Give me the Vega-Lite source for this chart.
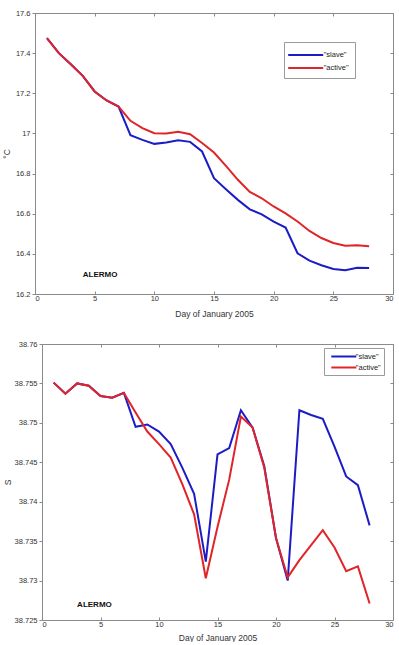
{
  "$schema": "https://vega.github.io/schema/vega-lite/v6.json",
  "padding": {"left": 2, "top": 9, "right": 0, "bottom": 0},
  "background": "white",
  "spacing": 22,
  "datasets": {
    "temperature": [
      {"day": 1, "series": "slave", "value": 17.475}, {"day": 2, "series": "slave", "value": 17.4},
      {"day": 3, "series": "slave", "value": 17.345}, {"day": 4, "series": "slave", "value": 17.287},
      {"day": 5, "series": "slave", "value": 17.209}, {"day": 6, "series": "slave", "value": 17.164},
      {"day": 7, "series": "slave", "value": 17.134}, {"day": 8, "series": "slave", "value": 16.991},
      {"day": 9, "series": "slave", "value": 16.968}, {"day": 10, "series": "slave", "value": 16.948},
      {"day": 11, "series": "slave", "value": 16.955}, {"day": 12, "series": "slave", "value": 16.966},
      {"day": 13, "series": "slave", "value": 16.958}, {"day": 14, "series": "slave", "value": 16.91},
      {"day": 15, "series": "slave", "value": 16.777}, {"day": 16, "series": "slave", "value": 16.722},
      {"day": 17, "series": "slave", "value": 16.669}, {"day": 18, "series": "slave", "value": 16.622},
      {"day": 19, "series": "slave", "value": 16.597}, {"day": 20, "series": "slave", "value": 16.561},
      {"day": 21, "series": "slave", "value": 16.531}, {"day": 22, "series": "slave", "value": 16.403},
      {"day": 23, "series": "slave", "value": 16.366}, {"day": 24, "series": "slave", "value": 16.343},
      {"day": 25, "series": "slave", "value": 16.325}, {"day": 26, "series": "slave", "value": 16.318},
      {"day": 27, "series": "slave", "value": 16.331}, {"day": 28, "series": "slave", "value": 16.33},
      {"day": 1, "series": "active", "value": 17.475}, {"day": 2, "series": "active", "value": 17.4},
      {"day": 3, "series": "active", "value": 17.345}, {"day": 4, "series": "active", "value": 17.287},
      {"day": 5, "series": "active", "value": 17.209}, {"day": 6, "series": "active", "value": 17.164},
      {"day": 7, "series": "active", "value": 17.134}, {"day": 8, "series": "active", "value": 17.063},
      {"day": 9, "series": "active", "value": 17.026}, {"day": 10, "series": "active", "value": 17.001},
      {"day": 11, "series": "active", "value": 17.0}, {"day": 12, "series": "active", "value": 17.008},
      {"day": 13, "series": "active", "value": 16.996}, {"day": 14, "series": "active", "value": 16.952},
      {"day": 15, "series": "active", "value": 16.905}, {"day": 16, "series": "active", "value": 16.838},
      {"day": 17, "series": "active", "value": 16.769}, {"day": 18, "series": "active", "value": 16.709},
      {"day": 19, "series": "active", "value": 16.677}, {"day": 20, "series": "active", "value": 16.636},
      {"day": 21, "series": "active", "value": 16.602}, {"day": 22, "series": "active", "value": 16.561},
      {"day": 23, "series": "active", "value": 16.514}, {"day": 24, "series": "active", "value": 16.479},
      {"day": 25, "series": "active", "value": 16.454}, {"day": 26, "series": "active", "value": 16.441},
      {"day": 27, "series": "active", "value": 16.443}, {"day": 28, "series": "active", "value": 16.438}
    ],
    "salinity": [
      {"day": 1, "series": "slave", "value": 38.7551}, {"day": 2, "series": "slave", "value": 38.7537},
      {"day": 3, "series": "slave", "value": 38.755}, {"day": 4, "series": "slave", "value": 38.7547},
      {"day": 5, "series": "slave", "value": 38.7534}, {"day": 6, "series": "slave", "value": 38.7532},
      {"day": 7, "series": "slave", "value": 38.7538}, {"day": 8, "series": "slave", "value": 38.7495},
      {"day": 9, "series": "slave", "value": 38.7498}, {"day": 10, "series": "slave", "value": 38.7489},
      {"day": 11, "series": "slave", "value": 38.7473}, {"day": 12, "series": "slave", "value": 38.7443},
      {"day": 13, "series": "slave", "value": 38.741}, {"day": 14, "series": "slave", "value": 38.7324},
      {"day": 15, "series": "slave", "value": 38.746}, {"day": 16, "series": "slave", "value": 38.7468},
      {"day": 17, "series": "slave", "value": 38.7516}, {"day": 18, "series": "slave", "value": 38.7494},
      {"day": 19, "series": "slave", "value": 38.7445}, {"day": 20, "series": "slave", "value": 38.7354},
      {"day": 21, "series": "slave", "value": 38.73}, {"day": 22, "series": "slave", "value": 38.7516},
      {"day": 23, "series": "slave", "value": 38.751}, {"day": 24, "series": "slave", "value": 38.7505},
      {"day": 25, "series": "slave", "value": 38.747}, {"day": 26, "series": "slave", "value": 38.7432},
      {"day": 27, "series": "slave", "value": 38.7421}, {"day": 28, "series": "slave", "value": 38.737},
      {"day": 1, "series": "active", "value": 38.7551}, {"day": 2, "series": "active", "value": 38.7537},
      {"day": 3, "series": "active", "value": 38.755}, {"day": 4, "series": "active", "value": 38.7547},
      {"day": 5, "series": "active", "value": 38.7534}, {"day": 6, "series": "active", "value": 38.7532},
      {"day": 7, "series": "active", "value": 38.7538}, {"day": 8, "series": "active", "value": 38.7513},
      {"day": 9, "series": "active", "value": 38.7489}, {"day": 10, "series": "active", "value": 38.7473},
      {"day": 11, "series": "active", "value": 38.7456}, {"day": 12, "series": "active", "value": 38.7422},
      {"day": 13, "series": "active", "value": 38.7384}, {"day": 14, "series": "active", "value": 38.7303},
      {"day": 15, "series": "active", "value": 38.7368}, {"day": 16, "series": "active", "value": 38.7428},
      {"day": 17, "series": "active", "value": 38.7508}, {"day": 18, "series": "active", "value": 38.7494},
      {"day": 19, "series": "active", "value": 38.7443}, {"day": 20, "series": "active", "value": 38.7354},
      {"day": 21, "series": "active", "value": 38.7304}, {"day": 22, "series": "active", "value": 38.7326},
      {"day": 23, "series": "active", "value": 38.7345}, {"day": 24, "series": "active", "value": 38.7364},
      {"day": 25, "series": "active", "value": 38.7342}, {"day": 26, "series": "active", "value": 38.7312},
      {"day": 27, "series": "active", "value": 38.7318}, {"day": 28, "series": "active", "value": 38.7271}
    ],
    "temperatureNote": [{"day": 4, "value": 16.295, "label": "ALERMO"}],
    "salinityNote": [{"day": 3, "value": 38.7269, "label": "ALERMO"}]
  },
  "vconcat": [
    {
      "width": 358,
      "height": 281,
      "resolve": {"axis": {"x": "independent", "y": "independent"}},
      "layer": [
        {
          "data": {"name": "temperature"},
          "transform": [{"filter": "datum.series === 'slave'"}],
          "mark": {"type": "line", "strokeWidth": 2},
          "encoding": {
            "x": {"field": "day", "type": "quantitative",
                  "scale": {"domain": [0, 30], "nice": false, "zero": false},
                  "axis": {"orient": "bottom", "title": "Day of January 2005", "values": [0, 5, 10, 15, 20, 25, 30], "format": "d",
                           "tickSize": -3, "labelPadding": 3, "titleY": 19, "titleBaseline": "middle"}},
            "y": {"field": "value", "type": "quantitative",
                  "scale": {"domain": [16.2, 17.6], "nice": false, "zero": false},
                  "axis": {"orient": "left", "title": "°C", "values": [16.2, 16.4, 16.6, 16.8, 17, 17.2, 17.4, 17.6], "format": "~g",
                           "tickSize": 3, "labelPadding": 2, "titleX": -28.5, "titleBaseline": "middle"}},
            "color": {"field": "series", "type": "nominal",
                      "scale": {"domain": ["slave", "active"], "range": ["#1c1cc6", "#e02428"]},
                      "legend": {"orient": "none", "legendX": 249, "legendY": 29, "title": null,
                                 "labelExpr": "'\"' + datum.label + '\"\u00a0\u00a0\u00a0\u00a0'",
                                 "symbolType": "M-3,0H3", "symbolSize": 136, "symbolStrokeWidth": 2,
                                 "symbolOffset": 8.7, "labelOffset": 11, "rowPadding": 2, "padding": 6,
                                 "labelFontSize": 7.5}}
          }
        },
        {
          "data": {"name": "temperature"},
          "transform": [{"filter": "datum.series === 'active'"}],
          "mark": {"type": "line", "strokeWidth": 2},
          "encoding": {
            "x": {"field": "day", "type": "quantitative",
                  "axis": {"orient": "top", "title": null, "labels": false, "values": [0, 5, 10, 15, 20, 25, 30], "tickSize": -3}},
            "y": {"field": "value", "type": "quantitative",
                  "axis": {"orient": "right", "title": null, "labels": false, "values": [16.2, 16.4, 16.6, 16.8, 17, 17.2, 17.4, 17.6], "tickSize": -3}},
            "color": {"field": "series", "type": "nominal",
                      "legend": {"orient": "none", "legendX": 249, "legendY": 29, "title": null,
                                 "labelExpr": "'\"' + datum.label + '\"\u00a0\u00a0\u00a0\u00a0'",
                                 "symbolType": "M-3,0H3", "symbolSize": 136, "symbolStrokeWidth": 2,
                                 "symbolOffset": 8.7, "labelOffset": 11, "rowPadding": 2, "padding": 6,
                                 "labelFontSize": 7.5}}
          }
        },
        {
          "data": {"name": "temperatureNote"},
          "mark": {"type": "text", "align": "left", "baseline": "middle", "fontWeight": "bold", "fontSize": 8, "font": "Liberation Sans", "color": "#111"},
          "encoding": {
            "x": {"field": "day", "type": "quantitative", "axis": null},
            "y": {"field": "value", "type": "quantitative", "axis": null},
            "text": {"field": "label"}
          }
        }
      ]
    },
    {
      "width": 358,
      "height": 276,
      "resolve": {"axis": {"x": "independent", "y": "independent"}},
      "layer": [
        {
          "data": {"name": "salinity"},
          "transform": [{"filter": "datum.series === 'slave'"}],
          "mark": {"type": "line", "strokeWidth": 2},
          "encoding": {
            "x": {"field": "day", "type": "quantitative",
                  "scale": {"domain": [0, 30], "nice": false, "zero": false, "range": [7, 358]},
                  "axis": {"orient": "bottom", "title": "Day of January 2005", "values": [0, 5, 10, 15, 20, 25, 30], "format": "d",
                           "tickSize": -3, "labelPadding": 3, "titleY": 17, "titleBaseline": "middle"}},
            "y": {"field": "value", "type": "quantitative",
                  "scale": {"domain": [38.725, 38.76], "nice": false, "zero": false},
                  "axis": {"orient": "left", "offset": -7, "title": "S", "values": [38.725, 38.73, 38.735, 38.74, 38.745, 38.75, 38.755, 38.76], "format": "~g",
                           "tickSize": 3, "labelPadding": 2, "titleX": -34.7, "titleBaseline": "middle"}},
            "color": {"field": "series", "type": "nominal",
                      "scale": {"domain": ["slave", "active"], "range": ["#1c1cc6", "#e02428"]},
                      "legend": {"orient": "none", "legendX": 289, "legendY": 4, "title": null,
                                 "labelExpr": "'\"' + datum.label + '\"'",
                                 "symbolType": "M-3,0H3", "symbolSize": 69.4, "symbolStrokeWidth": 2,
                                 "symbolOffset": 11.3, "labelOffset": 6.5, "rowPadding": 1, "padding": 3,
                                 "labelFontSize": 7.5}}
          }
        },
        {
          "data": {"name": "salinity"},
          "transform": [{"filter": "datum.series === 'active'"}],
          "mark": {"type": "line", "strokeWidth": 2},
          "encoding": {
            "x": {"field": "day", "type": "quantitative",
                  "axis": {"orient": "top", "title": null, "labels": false, "values": [0, 5, 10, 15, 20, 25, 30], "tickSize": -3}},
            "y": {"field": "value", "type": "quantitative",
                  "axis": {"orient": "right", "title": null, "labels": false, "values": [38.725, 38.73, 38.735, 38.74, 38.745, 38.75, 38.755, 38.76], "tickSize": -3}},
            "color": {"field": "series", "type": "nominal",
                      "legend": {"orient": "none", "legendX": 289, "legendY": 4, "title": null,
                                 "labelExpr": "'\"' + datum.label + '\"'",
                                 "symbolType": "M-3,0H3", "symbolSize": 69.4, "symbolStrokeWidth": 2,
                                 "symbolOffset": 11.3, "labelOffset": 6.5, "rowPadding": 1, "padding": 3,
                                 "labelFontSize": 7.5}}
          }
        },
        {
          "data": {"name": "salinityNote"},
          "mark": {"type": "text", "align": "left", "baseline": "middle", "fontWeight": "bold", "fontSize": 8, "font": "Liberation Sans", "color": "#111"},
          "encoding": {
            "x": {"field": "day", "type": "quantitative", "axis": null},
            "y": {"field": "value", "type": "quantitative", "axis": null},
            "text": {"field": "label"}
          }
        }
      ]
    }
  ],
  "resolve": {"scale": {"color": "independent"}, "legend": {"color": "independent"}},
  "config": {
    "view": {"stroke": null},
    "axis": {
      "grid": false,
      "labelFont": "Liberation Sans", "labelFontSize": 7.5, "labelColor": "#333",
      "titleFont": "Liberation Sans", "titleFontSize": 8.5, "titleFontWeight": "normal", "titleColor": "#333",
      "domainColor": "#8a8a8a", "tickColor": "#8a8a8a"
    },
    "legend": {
      "labelFont": "Liberation Sans", "labelColor": "#222",
      "strokeColor": "#9a9a9a", "fillColor": "white", "symbolFillColor": "transparent"
    }
  }
}
